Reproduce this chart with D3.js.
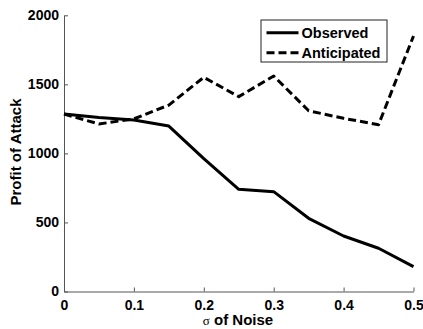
<!DOCTYPE html>
<html>
<head>
<meta charset="utf-8">
<script src="https://cdn.jsdelivr.net/npm/d3@7"></script>
<style>
  body { margin: 0; background: #fff; }
  text { font-family: "Liberation Sans", Arial, sans-serif; font-weight: bold; }
</style>
</head>
<body>
<div class="plot"></div>
<script>
// data
let noise = [0, 0.05, 0.1, 0.15, 0.2, 0.25, 0.3, 0.35, 0.4, 0.45, 0.5];
let observed = [1285, 1260, 1242, 1198, 962, 740, 723, 530, 402, 313, 180];
let anticipated = [1285, 1213, 1250, 1350, 1551, 1411, 1560, 1309, 1254, 1208, 1850];
let xTicks = [0, 0.1, 0.2, 0.3, 0.4, 0.5];
let yTicks = [0, 500, 1000, 1500, 2000];
let seriesNames = ["Observed", "Anticipated"];

let w = 423;
let h = 329;
let margin = {top: 15.3, right: 9.5, bottom: 37.5, left: 64};

let svg = d3.select(".plot").append("svg")
    .attr("width", w)
    .attr("height", h);

let xScale = d3.scaleLinear()
    .domain([0, 0.5])
    .range([margin.left, w - margin.right]);

let yScale = d3.scaleLinear()
    .domain([0, 2000])
    .range([h - margin.bottom, margin.top]);

//AXES (ticks point inward, MATLAB style)
let xAxis = d3.axisBottom(xScale)
    .tickValues(xTicks)
    .tickFormat(d3.format("~g"))
    .tickSizeInner(-4)
    .tickSizeOuter(0)
    .tickPadding(9);

let yAxis = d3.axisLeft(yScale)
    .tickValues(yTicks)
    .tickFormat(d3.format("d"))
    .tickSizeInner(-4)
    .tickSizeOuter(0)
    .tickPadding(5);

let gx = svg.append("g")
    .attr("transform", "translate(0," + (h - margin.bottom) + ")")
    .call(xAxis);

let gy = svg.append("g")
    .attr("transform", "translate(" + margin.left + ",0)")
    .call(yAxis);

[gx, gy].forEach(function(g) {
  g.selectAll("text")
    .attr("fill", "#000")
    .style("font-family", "'Liberation Sans', Arial, sans-serif")
    .style("font-weight", "bold")
    .style("font-size", "14px");
  g.selectAll("path, line").attr("stroke", "#555").attr("stroke-width", 1);
});

//LINES
let line = d3.line()
    .x(function(d) { return xScale(d[0]); })
    .y(function(d) { return yScale(d[1]); });

svg.append("path")
    .datum(d3.zip(noise, anticipated))
    .attr("fill", "none")
    .attr("stroke", "#000")
    .attr("stroke-width", 3)
    .attr("stroke-dasharray", "8,4")
    .attr("stroke-linejoin", "round")
    .attr("d", line);

svg.append("path")
    .datum(d3.zip(noise, observed))
    .attr("fill", "none")
    .attr("stroke", "#000")
    .attr("stroke-width", 3)
    .attr("stroke-linejoin", "round")
    .attr("d", line);

//AXIS LABELS
let xLabel = svg.append("text")
    .attr("x", 238)
    .attr("y", 325)
    .attr("text-anchor", "middle")
    .attr("font-size", 15);
xLabel.append("tspan")
    .style("font-family", "'Liberation Serif', serif")
    .style("font-weight", "normal")
    .attr("font-size", 13)
    .text("σ");
xLabel.append("tspan").text(" of Noise");

svg.append("text")
    .attr("transform", "translate(21,152) rotate(-90)")
    .attr("text-anchor", "middle")
    .attr("font-size", 15)
    .text("Profit of Attack");

//LEGEND
let legend = svg.append("g");

legend.append("rect")
    .attr("x", 261)
    .attr("y", 20)
    .attr("width", 126)
    .attr("height", 42)
    .attr("fill", "#fff")
    .attr("stroke", "#222")
    .attr("stroke-width", 1);

seriesNames.forEach(function(name, i) {
  let yPos = 32.7 + i * 20;
  legend.append("line")
    .attr("x1", 266.5)
    .attr("x2", 298.5)
    .attr("y1", yPos)
    .attr("y2", yPos)
    .attr("stroke", "#000")
    .attr("stroke-width", 3)
    .attr("stroke-dasharray", i == 1 ? "8,4" : null);
  legend.append("text")
    .attr("x", 301.5)
    .attr("y", yPos + 5)
    .attr("font-size", 14.5)
    .text(name);
});
</script>
</body>
</html>
